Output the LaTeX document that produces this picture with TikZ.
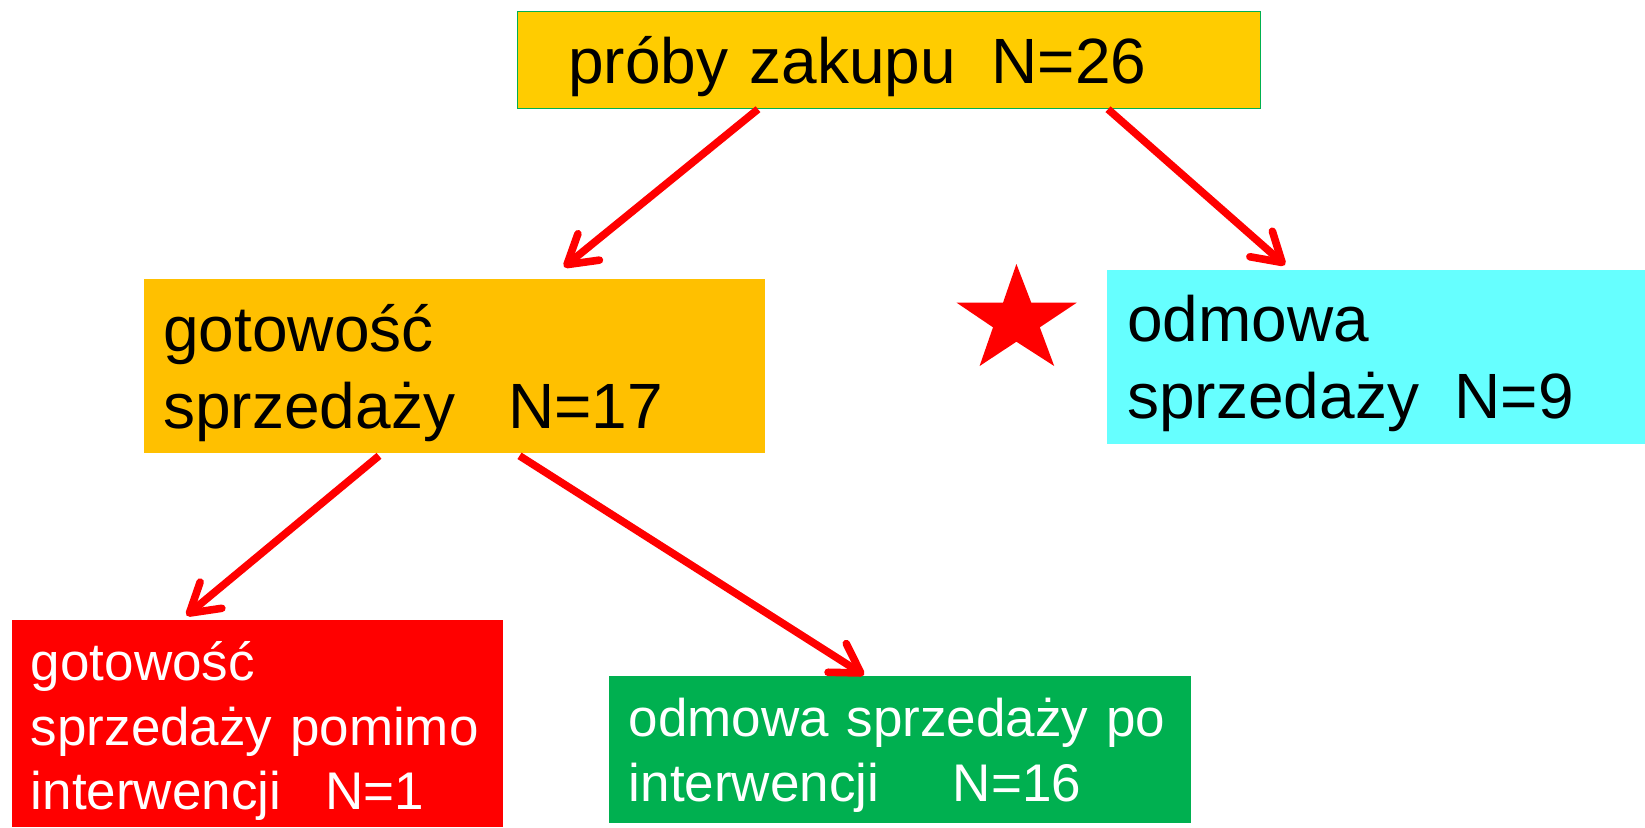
\documentclass[tikz,border=0pt]{standalone}
\usepackage{fontspec}
\setmainfont{Liberation Sans}
\usetikzlibrary{arrows.meta,calc}
\definecolor{topfill}{HTML}{FFCC00}
\definecolor{topline}{HTML}{00B050}
\definecolor{orangefill}{HTML}{FFC000}
\definecolor{cyanfill}{HTML}{66FFFF}
\definecolor{greenfill}{HTML}{00B050}
\definecolor{redfill}{HTML}{FF0000}
\begin{document}
\begin{tikzpicture}[x=0.5pt,y=-0.5pt,
  box/.style={rectangle, inner sep=0pt, anchor=north west},
  bigtxt/.style={anchor=base west, inner sep=0pt, text width=330pt, align=left,
    font=\fontsize{32pt}{38.3pt}\selectfont},
  smalltxt/.style={anchor=base west, inner sep=0pt, text width=300pt, align=left,
    font=\fontsize{26.5pt}{32.3pt}\selectfont, text=white},
  arr/.style={draw=red, line width=3.8pt, -{Straight Barb[length=14pt,width=17pt,round]}}]
\useasboundingbox (0,0) rectangle (1645,827);
% boxes
\node[box, fill=topfill, draw=topline, line width=0.6pt, minimum width=371.5pt, minimum height=48.5pt] (b1) at (517,11) {};
\node[box, fill=orangefill, minimum width=310.5pt, minimum height=87pt] (b2) at (144,279) {};
\node[box, fill=cyanfill, minimum width=269pt, minimum height=87pt] (b3) at (1107,270) {};
\node[box, fill=redfill, minimum width=245.75pt, minimum height=103.5pt] (b4) at (11.5,620) {};
\node[box, fill=greenfill, minimum width=291.25pt, minimum height=73.5pt] (b5) at (608.5,676) {};
% texts
\node[bigtxt] (t1) at (568,83.3) {próby zakupu\hspace{0.556em}N=26};
\node[bigtxt] (t2) at (163,351.4) {gotowość\\sprzedaży\hspace{0.834em}N=17};
\node[bigtxt] (t3) at (1127,341.7) {odmowa\\sprzedaży\hspace{0.556em}N=9};
\node[smalltxt] (t4) at (30.5,680.7) {gotowość\\sprzedaży pomimo\\interwencji\hspace{0.834em}N=1};
\node[smalltxt] (t5) at (628.5,736.7) {odmowa sprzedaży po\\interwencji\hspace{1.39em}N=16};
% star
\fill[red] (1016.4,264) -- (1031.3,302.7) -- (1076.7,302.7) -- (1039.8,327.3) -- (1054.2,366)
  -- (1016.4,341.7) -- (979.6,366) -- (993,327.3) -- (956.6,302.7) -- (1003,302.7) -- cycle;
% arrows
\draw[arr] ($(b1.south west)+(241,0)$) -- ($(b2.north west)+(420,-12)$);
\draw[arr] ($(b1.south west)+(591,0)$) -- ($(b3.north west)+(178,-5)$);
\draw[arr] ($(b2.south west)+(235,2)$) -- ($(b4.north west)+(175,-4.5)$);
\draw[arr] ($(b2.south west)+(375.5,2)$) -- ($(b5.north west)+(255.5,-1)$);
\end{tikzpicture}
\end{document}
